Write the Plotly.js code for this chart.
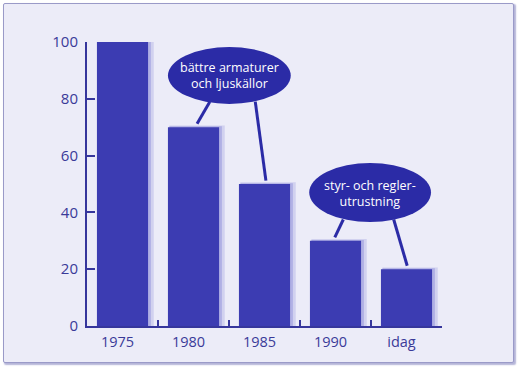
<!DOCTYPE html>
<html>
<head>
<meta charset="utf-8">
<script src="https://cdn.plot.ly/plotly-3.0.1.min.js"></script>
<style>
  html, body { margin: 0; padding: 0; background: #ffffff; }
  #wrap { position: relative; width: 519px; height: 369px; overflow: hidden; background: #ffffff; }
  #frame { position: absolute; left: 3px; top: 3px; width: 509px; height: 358px;
           border: 1.5px solid #9a9ac8; background: #ececf8; border-radius: 2px;
           box-shadow: 1.5px 1.5px 1.5px #b4b4d8; }
  #chart { position: absolute; left: 0; top: 0; width: 519px; height: 369px; }
</style>
</head>
<body>
<div id="wrap">
  <div id="frame"></div>
  <div id="chart"></div>
</div>
<script>
// ---- data ----
const categories = ['1975', '1980', '1985', '1990', 'idag'];
const values = [100, 70, 50, 30, 20];
const yTickVals = [0, 20, 40, 60, 80, 100];
const yTickText = ['0', '20', '40', '60', '80', '100'];
const callout1 = 'bättre armaturer<br>och ljuskällor';
const callout2 = 'styr- och regler-<br>utrustning';

// ---- styles ----
const barColor = '#3c3cb2';
const calloutColor = '#2b2ba6';
const axisColor = '#36369c';
const textColor = '#3a3a98';
const barWidth = 0.72;

const shadow1 = {
  type: 'bar', x: categories, y: values.map(v => v + 0.6),
  width: barWidth + 0.06, offset: -barWidth / 2 + 0.02,
  marker: { color: 'rgba(90,90,200,0.18)', line: { width: 0 } },
  hoverinfo: 'skip'
};
const shadow2 = {
  type: 'bar', x: categories, y: values.map(v => v + 0.3),
  width: barWidth + 0.02, offset: -barWidth / 2 + 0.02,
  marker: { color: 'rgba(90,90,200,0.28)', line: { width: 0 } },
  hoverinfo: 'skip'
};
const bars = {
  type: 'bar', x: categories, y: values,
  width: barWidth, offset: -barWidth / 2,
  marker: { color: barColor, line: { width: 0 } }
};

// callout pointer lines end just above the bars they point to
const lineStyle = { color: calloutColor, width: 3 };
const shapes = [
  { type: 'line', xref: 'x', yref: 'y', x0: 1.23, y0: 79, x1: 1.05, y1: values[1] + 1.2, line: lineStyle },
  { type: 'line', xref: 'x', yref: 'y', x0: 1.87, y0: 79, x1: 2.02, y1: values[2] + 1.2, line: lineStyle },
  { type: 'line', xref: 'x', yref: 'y', x0: 3.11, y0: 37.5, x1: 2.99, y1: values[3] + 1.2, line: lineStyle },
  { type: 'line', xref: 'x', yref: 'y', x0: 3.82, y0: 37.5, x1: 4.01, y1: values[4] + 1.2, line: lineStyle },
  { type: 'circle', xref: 'x', yref: 'y', x0: 0.64, x1: 2.37, y0: 78.2, y1: 98.2,
    fillcolor: calloutColor, line: { width: 0 } },
  { type: 'circle', xref: 'x', yref: 'y', x0: 2.63, x1: 4.345, y0: 36.6, y1: 57.4,
    fillcolor: calloutColor, line: { width: 0 } }
];

const annotations = [
  { xref: 'x', yref: 'y', x: 1.505, y: 88.2, text: callout1, showarrow: false,
    font: { family: 'Open Sans', size: 12.5, color: '#ffffff' } },
  { xref: 'x', yref: 'y', x: 3.49, y: 46.8, text: callout2, showarrow: false,
    font: { family: 'Open Sans', size: 12.5, color: '#ffffff' } }
];

const layout = {
  width: 519, height: 369,
  margin: { l: 87, r: 77, t: 42, b: 43, pad: 0 },
  paper_bgcolor: 'rgba(0,0,0,0)', plot_bgcolor: 'rgba(0,0,0,0)',
  barmode: 'overlay', showlegend: false,
  font: { family: 'Open Sans', color: textColor },
  xaxis: {
    type: 'category', range: [-0.5, 4.5], fixedrange: true,
    showline: true, linecolor: axisColor, linewidth: 2,
    ticks: 'inside', tickson: 'boundaries', ticklen: 6, tickwidth: 2, tickcolor: axisColor,
    showgrid: false, zeroline: false,
    tickfont: { family: 'Open Sans', size: 14.5, color: textColor },
    ticklabelshift: -5, ticklabelstandoff: 2
  },
  yaxis: {
    range: [0, 100], fixedrange: true,
    tickvals: yTickVals, ticktext: yTickText,
    showline: true, linecolor: axisColor, linewidth: 2,
    ticks: 'inside', ticklen: 8, tickwidth: 2, tickcolor: axisColor,
    showgrid: false, zeroline: false,
    tickfont: { family: 'Open Sans', size: 15, color: textColor },
    ticklabelstandoff: 4
  },
  shapes: shapes,
  annotations: annotations
};

Plotly.newPlot('chart', [shadow1, shadow2, bars], layout, { displayModeBar: false, staticPlot: true });
</script>
</body>
</html>
